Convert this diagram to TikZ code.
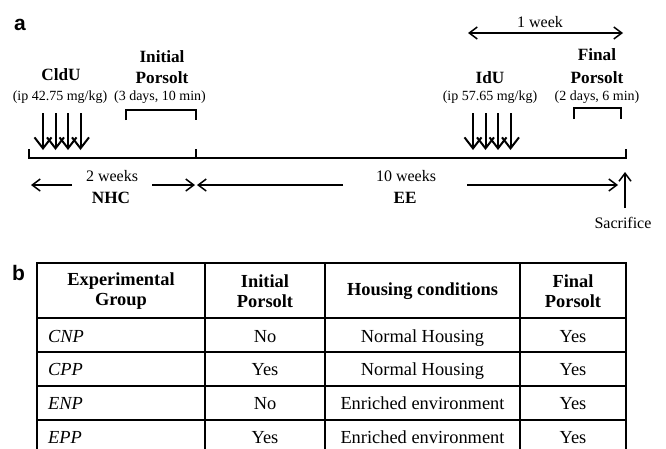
\documentclass[tikz,border=0pt]{standalone}
\usepackage{fontspec}
\setmainfont{Liberation Serif}
\newfontfamily\panelfont{Liberation Sans}
\usetikzlibrary{arrows.meta}
\begin{document}
\begin{tikzpicture}[x=1pt,y=-1pt,line join=miter,
  every node/.style={inner sep=0pt},
  bigb/.style={font=\fontsize{17.2}{18}\selectfont\bfseries},
  med/.style={font=\fontsize{16}{18}\selectfont},
  sml/.style={font=\fontsize{14}{15}\selectfont},
  panel/.style={font=\panelfont\fontsize{21}{24}\selectfont\bfseries},
  dose/.style={line width=2pt,-{Straight Barb[length=11pt,width=17pt,line width=2pt]}},
  span/.style={line width=1.3pt,-{Straight Barb[length=8pt,width=12pt,line width=1.5pt]}},
  bracketline/.style={line width=1.8pt},
  tab/.style={line width=1.3pt},
  cell/.style={font=\fontsize{18.4}{20}\selectfont,anchor=base},
  hcell/.style={font=\fontsize{18.4}{20.5}\selectfont\bfseries,align=center},
]
\useasboundingbox (0,0) rectangle (666,448);
\clip (0,0) rectangle (666,448);
\fill[white] (0,0) rectangle (666,448);

% panel labels
\node[panel] (pa) at (20,25) {a};
\node[panel] (pb) at (18.5,273) {b};

% timeline
\coordinate (L0) at (29,149);
\coordinate (L) at (29,158);
\coordinate (M) at (196,158);
\coordinate (M0) at (196,149);
\coordinate (R) at (626,158);
\coordinate (R0) at (626,149);
\draw[line width=1.5pt] (L0) -- (L) -- (M);
\draw[line width=2.2pt] (M) -- (R) -- (R0);
\draw[line width=1.8pt] (M0) -- (M);

% brackets
\coordinate (ib1) at (126,120); \coordinate (ib2) at (126,110);
\coordinate (ib3) at (196,110); \coordinate (ib4) at (196,120);
\draw[bracketline] (ib1) -- (ib2) -- (ib3) -- (ib4);
\coordinate (fb1) at (574,119); \coordinate (fb2) at (574,108);
\coordinate (fb3) at (621,108); \coordinate (fb4) at (621,119);
\draw[bracketline] (fb1) -- (fb2) -- (fb3) -- (fb4);

% dose arrows
\foreach \i/\x in {1/43,2/55.5,3/68,4/80.5}{
  \coordinate (c\i t) at (\x,113); \coordinate (c\i b) at (\x,150);
  \draw[dose] (c\i t) -- (c\i b);
}
\foreach \i/\x in {1/473,2/485.5,3/498,4/510.5}{
  \coordinate (d\i t) at (\x,113); \coordinate (d\i b) at (\x,150);
  \draw[dose] (d\i t) -- (d\i b);
}

% upper labels
\node[bigb] (cldu) at (61,75) {CldU};
\node[sml] (cldudose) at (60,97) {(ip 42.75 mg/kg)};
\node[bigb] (ini1) at (162,57) {Initial};
\node[bigb] (ini2) at (162,78) {Porsolt};
\node[sml] (inidur) at (160,97) {(3 days, 10 min)};
\node[bigb] (idu) at (490,78) {IdU};
\node[sml] (idudose) at (490,97) {(ip 57.65 mg/kg)};
\node[bigb] (fin1) at (597,55) {Final};
\node[bigb] (fin2) at (597,78) {Porsolt};
\node[sml] (findur) at (597,97) {(2 days, 6 min)};

% one week
\node[med] (wk1) at (540,22) {1 week};
\coordinate (w1a) at (468,33); \coordinate (w1b) at (623,33);
\draw[span,{Straight Barb[length=8pt,width=12pt,line width=1.5pt]}-{Straight Barb[length=8pt,width=12pt,line width=1.5pt]}] (w1a) -- (w1b);

% lower spans
\node[med] (wk2) at (112,176) {2 weeks};
\node[bigb] (nhc) at (111,198) {NHC};
\node[med] (wk10) at (406,176) {10 weeks};
\node[bigb] (ee) at (405,198) {EE};
\coordinate (a1s) at (72,185); \coordinate (a1e) at (31,185);
\coordinate (a2s) at (152,185); \coordinate (a2e) at (195,185);
\coordinate (a3s) at (343,185); \coordinate (a3e) at (197,185);
\coordinate (a4s) at (467,185); \coordinate (a4e) at (618,185);
\draw[span] (a1s) -- (a1e);
\draw[span] (a2s) -- (a2e);
\draw[span] (a3s) -- (a3e);
\draw[span] (a4s) -- (a4e);
\node[med] (sac) at (623,223) {Sacrifice};
\coordinate (upS) at (625,208);
\coordinate (upE) at (625,172);
\draw[span] (upS) -- (upE);

% table
\draw[tab] (37,263) rectangle (626,454);
\foreach \y in {318,352,386,420} \draw[tab] (37,\y) -- (626,\y);
\foreach \x in {205,325,520} \draw[tab] (\x,263) -- (\x,454);

\node[hcell] (h1) at (121,291) {Experimental\\Group};
\node[hcell] (h2) at (265,291) {Initial\\Porsolt};
\node[hcell] (h3) at (422.5,291) {Housing conditions};
\node[hcell] (h4) at (573,291) {Final\\Porsolt};

\foreach \r/\y/\g/\ip/\hc in {1/342/CNP/No/Normal Housing,2/375.5/CPP/Yes/Normal Housing,3/409/ENP/No/Enriched environment,4/443/EPP/Yes/Enriched environment}{
  \node[cell,anchor=base west] (g\r) at (48,\y) {\itshape\g};
  \node[cell] (i\r) at (265,\y) {\ip};
  \node[cell] (hc\r) at (422.5,\y) {\hc};
  \node[cell] (f\r) at (573,\y) {Yes};
}
\end{tikzpicture}
\end{document}
